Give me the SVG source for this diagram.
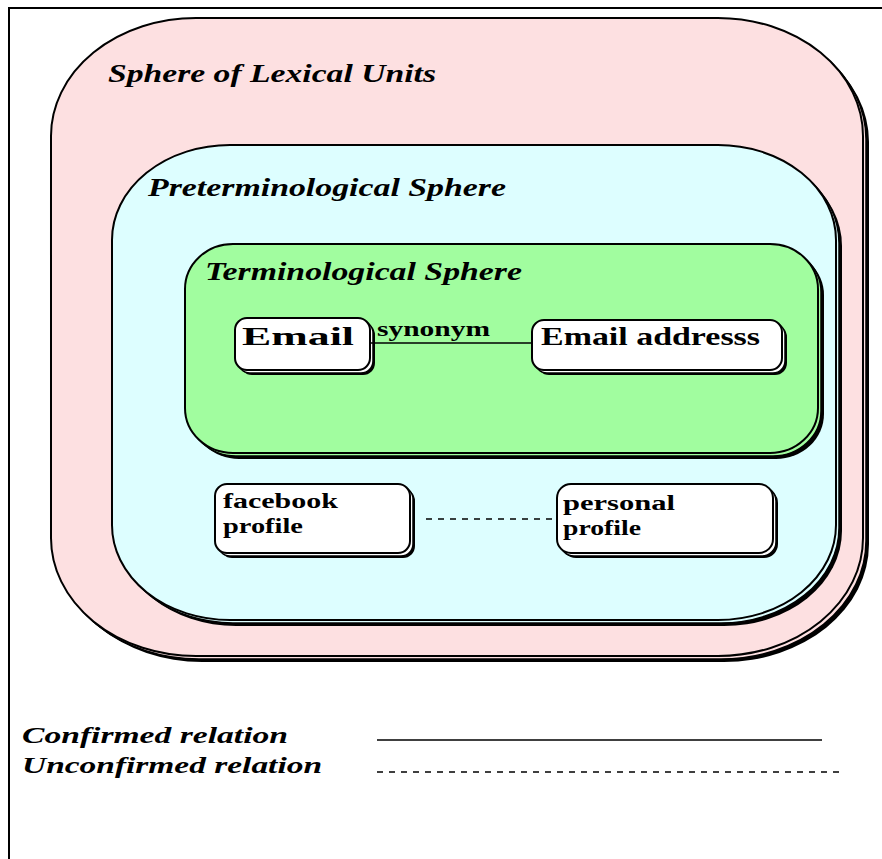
<svg xmlns="http://www.w3.org/2000/svg" width="882" height="859" viewBox="0 0 882 859">
<style>
.sh{fill:#000}
.sh2{stroke:#000;stroke-width:1.5}
.main{stroke:#000;stroke-width:2}
.title{font-family:"Liberation Serif",serif;font-weight:bold;font-style:italic;font-size:25px;fill:#000}
.leg{font-family:"Liberation Serif",serif;font-weight:bold;font-style:italic;font-size:23px;fill:#000}
.lbl{font-family:"Liberation Serif",serif;font-weight:bold;font-size:25px;fill:#000}
.sm{font-family:"Liberation Serif",serif;font-weight:bold;font-size:20px;fill:#000}
.conn{stroke:#000;stroke-width:1.5;fill:none}
.dash{stroke:#000;stroke-width:1.5;fill:none;stroke-dasharray:6,6}
</style>
<rect x="0" y="0" width="882" height="859" fill="#fff"/>
<path d="M9,859 V8 H882" fill="none" stroke="#000" stroke-width="2"/>

<g id="lexical">
<rect class="sh" x="57" y="24" width="812" height="638" rx="145" ry="118"/>
<rect class="sh2" x="54" y="21" width="812" height="638" rx="145" ry="118" fill="#fde0e1"/>
<rect class="main" x="51" y="18" width="812" height="638" rx="145" ry="118" fill="#fde0e1"/>
<text class="title" x="108" y="82" textLength="328" lengthAdjust="spacingAndGlyphs">Sphere of Lexical Units</text>
</g>

<g id="preterminological">
<rect class="sh" x="118" y="151" width="724" height="475" rx="118" ry="95"/>
<rect class="sh2" x="115" y="148" width="724" height="475" rx="118" ry="95" fill="#ddfeff"/>
<rect class="main" x="112" y="145" width="724" height="475" rx="118" ry="95" fill="#ddfeff"/>
<text class="title" x="148" y="196" textLength="358" lengthAdjust="spacingAndGlyphs">Preterminological Sphere</text>
</g>

<g id="terminological">
<rect class="sh" x="191" y="250" width="633" height="209" rx="48" ry="45"/>
<rect class="sh2" x="188" y="247" width="633" height="209" rx="48" ry="45" fill="#a1fd9f"/>
<rect class="main" x="185" y="244" width="633" height="209" rx="48" ry="45" fill="#a1fd9f"/>
<text class="title" x="205" y="280" textLength="317" lengthAdjust="spacingAndGlyphs">Terminological Sphere</text>
</g>

<g id="email">
<rect class="sh" x="240" y="323" width="135" height="52" rx="12"/>
<rect class="sh2" x="238" y="321" width="135" height="52" rx="12" fill="#fff"/>
<rect class="main" x="235" y="318" width="135" height="52" rx="12" fill="#fff"/>
<text class="lbl" x="242" y="345" textLength="112" lengthAdjust="spacingAndGlyphs">Email</text>
</g>

<g id="email-address">
<rect class="sh" x="537" y="325" width="250" height="50" rx="12"/>
<rect class="sh2" x="535" y="323" width="250" height="50" rx="12" fill="#fff"/>
<rect class="main" x="532" y="320" width="250" height="50" rx="12" fill="#fff"/>
<text class="lbl" x="541" y="345" textLength="219" lengthAdjust="spacingAndGlyphs">Email addresss</text>
</g>

<g id="facebook-profile">
<rect class="sh" x="220" y="489" width="195" height="69" rx="12"/>
<rect class="sh2" x="218" y="487" width="195" height="69" rx="12" fill="#fff"/>
<rect class="main" x="215" y="484" width="195" height="69" rx="12" fill="#fff"/>
<text class="sm" x="223" y="508" textLength="115" lengthAdjust="spacingAndGlyphs">facebook</text>
<text class="sm" x="223" y="533" textLength="80" lengthAdjust="spacingAndGlyphs">profile</text>
</g>

<g id="personal-profile">
<rect class="sh" x="562" y="489" width="216" height="69" rx="14"/>
<rect class="sh2" x="560" y="487" width="216" height="69" rx="14" fill="#fff"/>
<rect class="main" x="557" y="484" width="216" height="69" rx="14" fill="#fff"/>
<text class="sm" x="563" y="510" textLength="112" lengthAdjust="spacingAndGlyphs">personal</text>
<text class="sm" x="563" y="535" textLength="78" lengthAdjust="spacingAndGlyphs">profile</text>
</g>

<g id="connectors">
<line class="conn" x1="370" y1="343" x2="532" y2="343"/>
<text class="sm" x="377" y="336" font-size="21" textLength="113" lengthAdjust="spacingAndGlyphs">synonym</text>
<line class="dash" x1="426" y1="519" x2="557" y2="519"/>
</g>

<g id="legend">
<text class="leg" x="22" y="743" textLength="266" lengthAdjust="spacingAndGlyphs">Confirmed relation</text>
<text class="leg" x="22" y="773" textLength="300" lengthAdjust="spacingAndGlyphs">Unconfirmed relation</text>
<line class="conn" x1="377" y1="740" x2="822" y2="740" stroke-width="2"/>
<line class="dash" x1="377" y1="772" x2="840" y2="772" stroke-dasharray="5,11"/>
</g>
</svg>
